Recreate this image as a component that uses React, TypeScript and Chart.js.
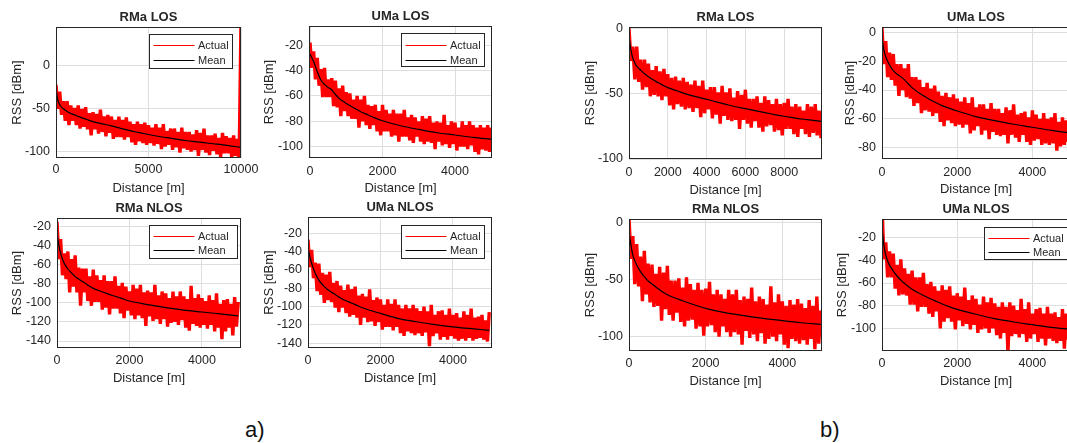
import React, { useEffect, useRef } from 'react';
import { Chart, registerables } from 'chart.js';

Chart.register(...registerables);

const FONT = "'Liberation Sans', Arial, Helvetica, sans-serif";
const TEXT = '#262626';
const GRID = '#dedede';
const ACTUAL_COLOR = '#ff0000';
const MEAN_COLOR = '#000000';

// ---------- distances (m) ----------
const DISTANCE_5KM = [0,50,100,150,200,250,300,350,400,450,500,550,600,650,700,750,800,850,900,950,1000,1050,1100,1150,1200,1250,1300,1350,1400,1450,1500,1550,1600,1650,1700,1750,1800,1850,1900,1950,2000,2050,2100,2150,2200,2250,2300,2350,2400,2450,2500,2550,2600,2650,2700,2750,2800,2850,2900,2950,3000,3050,3100,3150,3200,3250,3300,3350,3400,3450,3500,3550,3600,3650,3700,3750,3800,3850,3900,3950,4000,4050,4100,4150,4200,4250,4300,4350,4400,4450,4500,4550,4600,4650,4700,4750,4800,4850,4900,4950,5000];
const DISTANCE_10KM = [0,100,200,300,400,500,600,700,800,900,1000,1100,1200,1300,1400,1500,1600,1700,1800,1900,2000,2100,2200,2300,2400,2500,2600,2700,2800,2900,3000,3100,3200,3300,3400,3500,3600,3700,3800,3900,4000,4100,4200,4300,4400,4500,4600,4700,4800,4900,5000,5100,5200,5300,5400,5500,5600,5700,5800,5900,6000,6100,6200,6300,6400,6500,6600,6700,6800,6900,7000,7100,7200,7300,7400,7500,7600,7700,7800,7900,8000,8100,8200,8300,8400,8500,8600,8700,8800,8900,9000,9100,9200,9300,9400,9500,9600,9700,9800,9900,10000];
const MEAN_DISTANCE_5KM = [0,50,100,150,200,300,400,500,600,700,800,900,1000,1200,1400,1600,1800,2000,2500,3000,3500,4000,4500,5000];
const MEAN_DISTANCE_10KM = [0,100,200,300,400,500,600,800,1000,1200,1400,1600,1800,2000,2500,3000,3500,4000,4500,5000,5500,6000,6500,7000,7500,8000,8500,9000,9500,10000];

// ---------- a) series (RSS, dBm) ----------
const A_RMA_LOS_ACTUAL = [-22,-50,-30,-57,-41,-64,-41,-69,-46,-64,-49,-69,-46,-73,-50,-71,-48,-74,-55,-81,-54,-74,-56,-79,-51,-77,-59,-82,-57,-78,-59,-85,-63,-83,-59,-83,-63,-86,-60,-83,-65,-89,-68,-92,-65,-88,-68,-90,-66,-92,-69,-90,-72,-93,-68,-91,-72,-97,-68,-94,-76,-92,-73,-98,-73,-95,-77,-101,-72,-96,-77,-98,-77,-100,-80,-98,-75,-105,-78,-98,-73,-101,-81,-104,-81,-99,-79,-103,-84,-106,-78,-102,-82,-102,-84,-107,-81,-105,-85,-110,50];
const A_RMA_LOS_MEAN = [-26,-40,-45,-48,-50,-51.5,-53,-55.5,-57,-58.8,-60.5,-62,-63.5,-65,-67.5,-70,-72.8,-75.5,-77.8,-80,-82,-83.7,-85.4,-87,-88.3,-89.5,-90.8,-92,-93.5,-95];

const A_UMA_LOS_ACTUAL = [-18,-38,-25,-47,-30,-52,-39,-61,-38,-61,-47,-61,-46,-68,-48,-69,-54,-76,-52,-72,-57,-76,-58,-78,-63,-78,-60,-85,-63,-80,-60,-83,-67,-86,-68,-83,-67,-88,-72,-91,-67,-88,-71,-88,-74,-92,-71,-91,-74,-96,-74,-92,-71,-92,-77,-95,-75,-97,-77,-92,-80,-96,-76,-98,-78,-96,-76,-97,-81,-102,-80,-96,-81,-99,-75,-98,-83,-101,-80,-98,-81,-103,-85,-100,-80,-100,-83,-102,-80,-99,-83,-104,-85,-106,-83,-102,-85,-103,-83,-104,-85];
const A_UMA_LOS_MEAN = [-27,-30,-33,-37,-41,-47.5,-51,-53.3,-55.4,-58.8,-62,-64,-66,-69.3,-72.5,-75,-77.5,-79.6,-83.5,-86.4,-89,-90.8,-92.7,-94.2];

const A_RMA_NLOS_ACTUAL = [-15,-54,-33,-71,-48,-75,-46,-89,-54,-83,-50,-89,-63,-103,-64,-89,-64,-98,-72,-103,-65,-99,-71,-99,-76,-107,-71,-105,-77,-112,-77,-106,-72,-106,-82,-111,-79,-116,-83,-108,-88,-113,-81,-117,-85,-113,-81,-116,-89,-124,-87,-114,-89,-119,-81,-117,-92,-122,-88,-117,-90,-125,-95,-121,-88,-120,-93,-123,-88,-118,-93,-126,-96,-129,-82,-122,-95,-124,-91,-126,-95,-123,-98,-127,-92,-123,-97,-130,-90,-126,-101,-138,-97,-130,-96,-126,-101,-134,-94,-125,-99];
const A_RMA_NLOS_MEAN = [-28,-39,-48,-54,-58.5,-64.4,-68.5,-72.4,-75,-77.5,-80,-82.5,-84.7,-87.8,-90.5,-93,-95.5,-98,-101.8,-105,-107.6,-109.5,-111.5,-113.5];

const A_UMA_NLOS_ACTUAL = [-27,-57,-38,-69,-52,-83,-53,-87,-63,-96,-65,-93,-62,-95,-74,-101,-72,-106,-77,-101,-82,-107,-76,-111,-81,-109,-78,-112,-88,-120,-86,-112,-89,-117,-81,-116,-93,-121,-90,-117,-92,-125,-98,-122,-92,-122,-97,-126,-92,-122,-98,-129,-102,-132,-98,-127,-102,-129,-98,-131,-102,-129,-105,-132,-100,-128,-105,-143,-98,-132,-109,-129,-105,-136,-104,-133,-109,-136,-102,-132,-109,-135,-107,-137,-112,-135,-105,-137,-109,-134,-102,-137,-112,-135,-111,-134,-109,-136,-115,-138,-106];
const A_UMA_NLOS_MEAN = [-36,-45.5,-52.7,-58.5,-63.6,-71,-76,-80,-83,-85.5,-88,-90.5,-92.7,-96,-99.5,-102.5,-105,-107.3,-113,-116.5,-119.5,-122,-124,-125.8];

// ---------- b) series (RSS, dBm) ----------
const B_RMA_LOS_ACTUAL = [0,-25,-14,-39,-14,-41,-24,-47,-24,-45,-27,-52,-32,-51,-29,-52,-33,-55,-31,-52,-35,-59,-38,-62,-37,-58,-40,-60,-38,-62,-41,-61,-43,-64,-40,-61,-44,-68,-40,-65,-47,-62,-45,-69,-45,-66,-49,-73,-44,-67,-49,-70,-46,-71,-53,-70,-48,-77,-51,-70,-47,-73,-54,-76,-54,-71,-52,-76,-57,-79,-52,-75,-55,-74,-58,-79,-54,-78,-58,-82,-57,-77,-54,-77,-60,-81,-58,-83,-60,-77,-63,-81,-58,-83,-60,-80,-58,-82,-63,-84,-61];
const B_RMA_LOS_MEAN = [-6,-16.6,-23,-26.5,-29,-30.6,-32,-34.8,-37,-39,-40.8,-42.3,-44,-45.4,-48,-50.5,-52.5,-54.3,-56.3,-58.2,-60,-61.5,-63,-64.5,-66,-67.3,-68.5,-69.6,-70.4,-71.3];

const B_UMA_LOS_ACTUAL = [3,-22,-6,-31,-14,-33,-15,-37,-22,-44,-22,-40,-25,-45,-22,-46,-31,-51,-31,-49,-33,-56,-38,-54,-35,-55,-39,-58,-37,-56,-41,-62,-44,-65,-42,-61,-45,-63,-43,-65,-46,-64,-48,-66,-45,-64,-49,-70,-45,-68,-52,-65,-50,-71,-50,-68,-53,-74,-49,-69,-53,-71,-53,-72,-56,-71,-52,-77,-54,-71,-50,-73,-57,-76,-56,-71,-55,-76,-59,-78,-54,-75,-57,-74,-60,-78,-56,-77,-60,-78,-59,-77,-56,-82,-62,-79,-59,-78,-61,-76,-63];
const B_UMA_LOS_MEAN = [-3,-12.2,-16.9,-20,-22.6,-26.5,-29,-30.7,-33,-35.8,-38.3,-40.4,-42.3,-45.5,-48.3,-50.8,-52.7,-54.5,-58.4,-61.2,-63.7,-65.8,-68,-69.7];

const B_RMA_NLOS_ACTUAL = [4,-32,-12,-54,-19,-56,-30,-69,-25,-63,-36,-70,-37,-74,-45,-73,-39,-86,-44,-76,-38,-81,-51,-86,-51,-79,-49,-87,-57,-91,-48,-86,-54,-85,-59,-93,-53,-91,-59,-99,-58,-91,-52,-90,-63,-96,-59,-100,-63,-91,-67,-96,-59,-100,-63,-96,-59,-98,-68,-107,-65,-95,-67,-101,-57,-98,-69,-104,-65,-97,-67,-106,-72,-102,-56,-100,-70,-104,-63,-98,-69,-107,-73,-110,-68,-102,-72,-104,-67,-106,-71,-103,-75,-107,-68,-102,-73,-111,-65,-106,-77];
const B_RMA_NLOS_MEAN = [-8,-19.8,-28.6,-33.5,-37.3,-43.1,-47.5,-51.3,-54,-56.5,-59,-61.4,-63.4,-66.2,-68.6,-71,-73.2,-75.2,-79,-81.6,-84,-86,-87.8,-89.2];

const B_UMA_NLOS_ACTUAL = [9,-39,-24,-55,-32,-55,-34,-65,-44,-71,-39,-70,-47,-71,-52,-79,-49,-79,-55,-85,-55,-81,-51,-81,-61,-87,-59,-90,-63,-85,-67,-100,-62,-94,-66,-91,-63,-94,-71,-101,-69,-93,-72,-98,-64,-96,-75,-101,-71,-97,-74,-104,-79,-101,-72,-100,-77,-104,-73,-100,-78,-106,-81,-109,-77,-104,-81,-121,-77,-107,-80,-105,-84,-108,-74,-105,-83,-112,-77,-109,-87,-105,-83,-112,-82,-109,-87,-115,-81,-109,-87,-111,-86,-113,-90,-111,-83,-118,-87,-110,-80];
const B_UMA_NLOS_MEAN = [-12,-26.5,-35.3,-40.5,-44.2,-49.5,-53.8,-57.5,-60.5,-63,-65.5,-67.5,-69.3,-72.5,-75.5,-78.5,-81,-83.2,-87.6,-91.5,-94.4,-96.8,-99.2,-100.8];

// ---------- tick values ----------
const X_TICKS_10K_A = [0, 5000, 10000];
const X_TICKS_10K_B = [0, 2000, 4000, 6000, 8000];
const X_TICKS_5K = [0, 2000, 4000];
const Y_TICKS_50_0 = [-100, -50, 0];
const Y_TICKS_UMA_LOS_A = [-100, -80, -60, -40, -20];
const Y_TICKS_NLOS_A = [-140, -120, -100, -80, -60, -40, -20];
const Y_TICKS_UMA_LOS_B = [-80, -60, -40, -20, 0];
const Y_TICKS_UMA_NLOS_B = [-100, -80, -60, -40, -20];

const LEFT_MARGIN = 56;
const TOP_MARGIN = 26;
const RIGHT_MARGIN = 24;

type LegendBox = { rightGap: number; topGap: number; w: number; h: number; row1: number; row2: number };
type Panel = {
  title: string;
  dist: number[]; actual: number[]; meanDist: number[]; mean: number[];
  xMin: number; xMax: number; yMin: number; yMax: number;
  xTicks: number[]; yTicks: number[];
  left: number; top: number; width: number; height: number;
  yTitleOff: number; xTickOff: number; xTitleOff: number;
  legend: LegendBox | null;
};

const PANELS: Panel[] = [
  { title: 'RMa LOS', dist: DISTANCE_10KM, actual: A_RMA_LOS_ACTUAL, meanDist: MEAN_DISTANCE_10KM, mean: A_RMA_LOS_MEAN,
    xMin: 0, xMax: 10000, yMin: -107.4, yMax: 45.5, xTicks: X_TICKS_10K_A, yTicks: Y_TICKS_50_0,
    left: 56, top: 27, width: 185, height: 131, yTitleOff: 38.5, xTickOff: 12, xTitleOff: 30.3,
    legend: { rightGap: 9, topGap: 7, w: 83, h: 34, row1: 10, row2: 25 } },
  { title: 'UMa LOS', dist: DISTANCE_5KM, actual: A_UMA_LOS_ACTUAL, meanDist: MEAN_DISTANCE_5KM, mean: A_UMA_LOS_MEAN,
    xMin: -28, xMax: 5020, yMin: -108.9, yMax: -5, xTicks: X_TICKS_5K, yTicks: Y_TICKS_UMA_LOS_A,
    left: 309, top: 26, width: 183, height: 132, yTitleOff: 39.8, xTickOff: 13.5, xTitleOff: 30.3,
    legend: { rightGap: 8, topGap: 7, w: 83, h: 33, row1: 11, row2: 26 } },
  { title: 'RMa NLOS', dist: DISTANCE_5KM, actual: A_RMA_NLOS_ACTUAL, meanDist: MEAN_DISTANCE_5KM, mean: A_RMA_NLOS_MEAN,
    xMin: 0, xMax: 5076, yMin: -147.3, yMax: -10.9, xTicks: X_TICKS_5K, yTicks: Y_TICKS_NLOS_A,
    left: 57, top: 218, width: 184, height: 130, yTitleOff: 39.7, xTickOff: 12.7, xTitleOff: 29.7,
    legend: { rightGap: 4, topGap: 7, w: 88, h: 33, row1: 10, row2: 24 } },
  { title: 'UMa NLOS', dist: DISTANCE_5KM, actual: A_UMA_NLOS_ACTUAL, meanDist: MEAN_DISTANCE_5KM, mean: A_UMA_NLOS_MEAN,
    xMin: 0, xMax: 5076, yMin: -145.1, yMax: -2.2, xTicks: X_TICKS_5K, yTicks: Y_TICKS_NLOS_A,
    left: 308, top: 217, width: 184, height: 131, yTitleOff: 38.8, xTickOff: 12.7, xTitleOff: 29.7,
    legend: { rightGap: 8, topGap: 8, w: 83, h: 33, row1: 10, row2: 24 } },
  { title: 'RMa LOS', dist: DISTANCE_10KM, actual: B_RMA_LOS_ACTUAL, meanDist: MEAN_DISTANCE_10KM, mean: B_RMA_LOS_MEAN,
    xMin: 0, xMax: 9950, yMin: -100, yMax: 1, xTicks: X_TICKS_10K_B, yTicks: Y_TICKS_50_0,
    left: 629, top: 27, width: 193, height: 132, yTitleOff: 38.2, xTickOff: 13.7, xTitleOff: 31,
    legend: null },
  { title: 'UMa LOS', dist: DISTANCE_5KM, actual: B_UMA_LOS_ACTUAL, meanDist: MEAN_DISTANCE_5KM, mean: B_UMA_LOS_MEAN,
    xMin: 0, xMax: 5000, yMin: -87.8, yMax: 3.7, xTicks: X_TICKS_5K, yTicks: Y_TICKS_UMA_LOS_B,
    left: 882, top: 27, width: 188, height: 132, yTitleOff: 31.5, xTickOff: 13.7, xTitleOff: 30.3,
    legend: null },
  { title: 'RMa NLOS', dist: DISTANCE_5KM, actual: B_RMA_NLOS_ACTUAL, meanDist: MEAN_DISTANCE_5KM, mean: B_RMA_NLOS_MEAN,
    xMin: 0, xMax: 5035, yMin: -112.5, yMax: 2.9, xTicks: X_TICKS_5K, yTicks: Y_TICKS_50_0,
    left: 629, top: 219, width: 193, height: 132, yTitleOff: 38.5, xTickOff: 12.3, xTitleOff: 30,
    legend: null },
  { title: 'UMa NLOS', dist: DISTANCE_5KM, actual: B_UMA_NLOS_ACTUAL, meanDist: MEAN_DISTANCE_5KM, mean: B_UMA_NLOS_MEAN,
    xMin: 0, xMax: 5000, yMin: -120, yMax: -3.5, xTicks: X_TICKS_5K, yTicks: Y_TICKS_UMA_NLOS_B,
    left: 882, top: 219, width: 188, height: 132, yTitleOff: 39.2, xTickOff: 12.3, xTitleOff: 29.7,
    legend: { rightGap: 3, topGap: 8, w: 83, h: 32, row1: 10, row2: 24 } },
];

const frameLegendPlugin = {
  id: 'frameLegend',
  afterDatasetsDraw(chart: any, _args: any, opts: any) {
    const { ctx, chartArea } = chart;
    const l = chartArea.left, t = chartArea.top, r = chartArea.right, b = chartArea.bottom;
    ctx.save();
    ctx.strokeStyle = TEXT;
    ctx.lineWidth = 1;
    ctx.strokeRect(l + 0.5, t + 0.5, r - l - 1, b - t - 1);
    const lg = opts && opts.box;
    if (lg) {
      const bx = Math.round(r - lg.rightGap - lg.w) + 0.5;
      const by = Math.round(t + lg.topGap) + 0.5;
      ctx.fillStyle = '#ffffff';
      ctx.fillRect(bx, by, lg.w, lg.h);
      ctx.strokeStyle = TEXT;
      ctx.strokeRect(bx, by, lg.w, lg.h);
      ctx.font = `11px ${FONT}`;
      ctx.textBaseline = 'middle';
      ctx.textAlign = 'left';
      chart.data.datasets.forEach((ds: any, i: number) => {
        const y = Math.round(by + (i === 0 ? lg.row1 : lg.row2)) + 0.5;
        ctx.strokeStyle = ds.borderColor;
        ctx.lineWidth = 1;
        ctx.beginPath();
        ctx.moveTo(bx + 4, y);
        ctx.lineTo(bx + 45, y);
        ctx.stroke();
        ctx.fillStyle = TEXT;
        ctx.fillText(ds.label, bx + 48.5, y);
      });
    }
    ctx.restore();
  },
};

function PanelChart({ p }: { p: Panel }) {
  const ref = useRef<HTMLCanvasElement>(null);
  const xTitleH = Math.round(p.xTitleOff + 7.8);
  const cw = LEFT_MARGIN + p.width + RIGHT_MARGIN;
  const ch = TOP_MARGIN + p.height + xTitleH;

  useEffect(() => {
    const canvas = ref.current;
    if (!canvas) return;
    const chart = new Chart(canvas, {
      type: 'line',
      data: {
        datasets: [
          {
            label: 'Actual',
            data: p.dist.map((d, i) => ({ x: d, y: p.actual[i] })),
            borderColor: ACTUAL_COLOR,
            backgroundColor: ACTUAL_COLOR,
            borderWidth: 3.4,
            borderJoinStyle: 'bevel',
            pointRadius: 0,
            tension: 0,
            order: 1,
          },
          {
            label: 'Mean',
            data: p.meanDist.map((d, i) => ({ x: d, y: p.mean[i] })),
            borderColor: MEAN_COLOR,
            backgroundColor: MEAN_COLOR,
            borderWidth: 1.2,
            pointRadius: 0,
            cubicInterpolationMode: 'monotone',
            order: 0,
          },
        ],
      },
      options: {
        responsive: false,
        animation: false,
        devicePixelRatio: 1,
        events: [],
        layout: { padding: { left: 0, top: 0, right: RIGHT_MARGIN, bottom: 0 } },
        plugins: {
          legend: { display: false },
          tooltip: { enabled: false },
          title: {
            display: true,
            text: p.title,
            fullSize: false,
            color: TEXT,
            font: { family: FONT, size: 13, weight: 'bold', lineHeight: 1.2 },
            padding: { top: 8.2, bottom: 2.2 },
          },
          frameLegend: { box: p.legend },
        } as any,
        scales: {
          x: {
            type: 'linear',
            min: p.xMin,
            max: p.xMax,
            bounds: 'data',
            afterBuildTicks: (s: any) => { s.ticks = p.xTicks.map((v) => ({ value: v })); },
            afterFit: (s: any) => { s.height = xTitleH; },
            grid: { color: GRID, drawTicks: false, lineWidth: 1 },
            border: { display: false },
            ticks: {
              color: TEXT,
              font: { family: FONT, size: 12.5 },
              padding: p.xTickOff - 7.5,
              maxRotation: 0,
              autoSkip: false,
              callback: (v: any) => String(v),
            },
            title: {
              display: true,
              text: 'Distance [m]',
              color: TEXT,
              font: { family: FONT, size: 13 },
              padding: { top: 0, bottom: 0 },
            },
          },
          y: {
            type: 'linear',
            min: p.yMin,
            max: p.yMax,
            bounds: 'data',
            afterBuildTicks: (s: any) => { s.ticks = p.yTicks.map((v) => ({ value: v })); },
            afterFit: (s: any) => { s.width = LEFT_MARGIN; },
            grid: { color: GRID, drawTicks: false, lineWidth: 1 },
            border: { display: false },
            ticks: {
              color: TEXT,
              font: { family: FONT, size: 12.5 },
              padding: 6,
              autoSkip: false,
              callback: (v: any) => String(v),
            },
            title: {
              display: true,
              text: 'RSS [dBm]',
              color: TEXT,
              font: { family: FONT, size: 13 },
              padding: { top: LEFT_MARGIN - p.yTitleOff - 7.8, bottom: 0 },
            },
          },
        } as any,
      },
      plugins: [frameLegendPlugin],
    } as any);
    return () => chart.destroy();
  }, [p]);

  return (
    <canvas
      ref={ref}
      width={cw}
      height={ch}
      style={{ position: 'absolute', left: p.left - LEFT_MARGIN, top: p.top - TOP_MARGIN, width: cw, height: ch }}
    />
  );
}

export default function App() {
  return (
    <div
      style={{
        position: 'fixed', left: 0, top: 0, width: 1067, height: 443,
        overflow: 'hidden', background: '#ffffff',
      }}
    >
      {PANELS.map((p, i) => <PanelChart key={i} p={p} />)}
      <div style={{ position: 'absolute', left: 245, top: 419, fontFamily: FONT, fontSize: 22, lineHeight: '22px', color: '#111' }}>a)</div>
      <div style={{ position: 'absolute', left: 820, top: 419, fontFamily: FONT, fontSize: 22, lineHeight: '22px', color: '#111' }}>b)</div>
    </div>
  );
}
